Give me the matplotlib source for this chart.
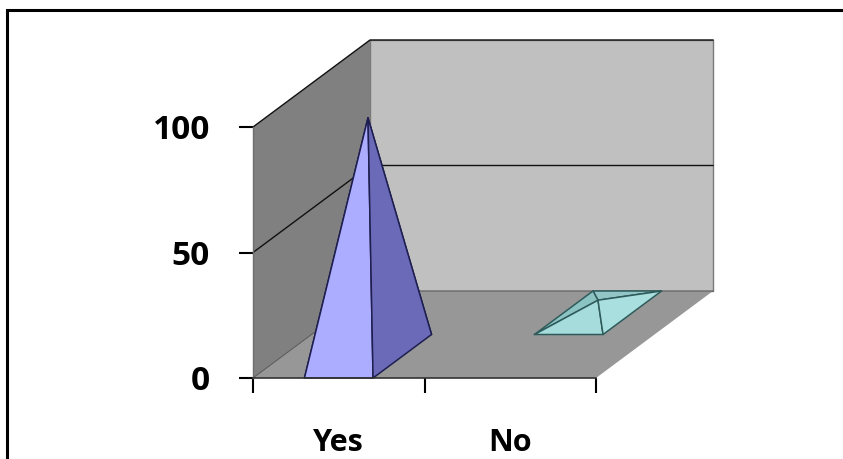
import matplotlib
matplotlib.use("Agg")
import matplotlib.pyplot as plt
from matplotlib.patches import Polygon, Rectangle

# Chart data
categories = ["Yes", "No"]
values = [95, 5]
y_ticks = [0, 50, 100]
y_max = 100

# Styling
face_colors = [
    {"front": "#ADADFF", "right": "#6A6AB8", "left": "#8E8EDB", "back": "#7A7AC4"},
    {"front": "#A6DCDC", "right": "#A9DFDF", "left": "#8BC3C3", "back": "#92C6C6"},
]
edge_colors = ["#1E1E50", "#2F5B5B"]
back_wall_color = "#C0C0C0"
side_wall_color = "#808080"
floor_color = "#979797"

W, H, DPI = 843, 459, 100
fig = plt.figure(figsize=(W / DPI, H / DPI), dpi=DPI)
fig.patch.set_facecolor("white")

# Plot area (front plane of the 3-D box)
x0, x1 = 253, 596
y_top, y_bot = 127, 378
ax = fig.add_axes([x0 / W, 1 - y_bot / H, (x1 - x0) / W, (y_bot - y_top) / H])
n = len(categories)
ax.set_xlim(0, n)
ax.set_ylim(0, y_max)
ax.patch.set_visible(False)
for s in ax.spines.values():
    s.set_visible(False)

# Oblique depth offset, in data units (full depth of the box)
DX = 117 / (x1 - x0) * n
DY = 87 / (y_bot - y_top) * y_max


def P(x, v, d):
    """Project category position x, value v and depth d (0 = front, 1 = back)."""
    return (x + d * DX, v + d * DY)


def poly(pts, fc, ec="none", lw=0.0, z=1):
    ax.add_patch(Polygon(pts, closed=True, facecolor=fc, edgecolor=ec,
                         linewidth=lw, joinstyle="round", clip_on=False, zorder=z))


# Walls and floor
poly([P(0, 0, 1), P(n, 0, 1), P(n, y_max, 1), P(0, y_max, 1)],
     back_wall_color, "#7A7A7A", 1.0, z=1)
poly([P(0, 0, 0), P(0, 0, 1), P(0, y_max, 1), P(0, y_max, 0)],
     side_wall_color, "none", 0, z=1)
poly([P(0, 0, 0), P(n, 0, 0), P(n, 0, 1), P(0, 0, 1)],
     floor_color, "none", 0, z=1)

# Gridlines on the back and side walls
for t in y_ticks:
    xs, ys = zip(P(0, t, 0), P(0, t, 1), P(n, t, 1))
    lw = 1.0 if t > 0 else 0.7
    col = "#111111" if t > 0 else "#555555"
    ax.plot(xs, ys, color=col, lw=lw, clip_on=False, zorder=2)
# Side wall front edge
ax.plot([0, 0], [0, y_max], color="#6E6E6E", lw=1.0, clip_on=False, zorder=2)
# Floor front edge
ax.plot([0, n], [0, 0], color="#333333", lw=1.2, clip_on=False, zorder=6)

# Pyramids: each series sits in its own depth row
half_w = 0.2
rows = len(values)
for i, (v, fc, ec) in enumerate(zip(values, face_colors, edge_colors)):
    cx = i + 0.5
    d0, d1 = i / rows, (i + 1) / rows
    fl = P(cx - half_w, 0, d0)
    fr = P(cx + half_w, 0, d0)
    br = P(cx + half_w, 0, d1)
    bl = P(cx - half_w, 0, d1)
    apex = P(cx, v, (d0 + d1) / 2)
    z = 3 + i
    poly([bl, br, apex], fc["back"], ec, 1.1, z)
    poly([fl, bl, apex], fc["left"], ec, 1.1, z)
    poly([fl, fr, apex], fc["front"], ec, 1.1, z)
    poly([fr, br, apex], fc["right"], ec, 1.1, z)

# Axes ticks and labels
font = "Open Sans"
ax.set_yticks(y_ticks)
ax.set_yticklabels([str(t) for t in y_ticks], fontsize=24, fontweight="bold",
                   fontfamily=font)
ax.tick_params(axis="y", direction="out", length=10, width=1.5, color="black",
               pad=21)
ax.set_xticks(range(n + 1))
ax.set_xticklabels([""] * (n + 1))
ax.tick_params(axis="x", direction="out", length=11, width=1.5, color="black")
ax.set_xticks([i + 0.5 for i in range(n)], minor=True)
ax.set_xticklabels(categories, minor=True, fontsize=22, fontweight="bold",
                   fontfamily=font)
ax.tick_params(axis="x", which="minor", length=0, pad=36)

# Chart frame (open towards the right and bottom edges)
fig.patches.append(Rectangle((7 / W, -0.5), 2.0, (H - 10) / H + 0.5,
                             transform=fig.transFigure, fill=False,
                             edgecolor="black", linewidth=2.2))

fig.savefig("out.png", dpi=DPI)
